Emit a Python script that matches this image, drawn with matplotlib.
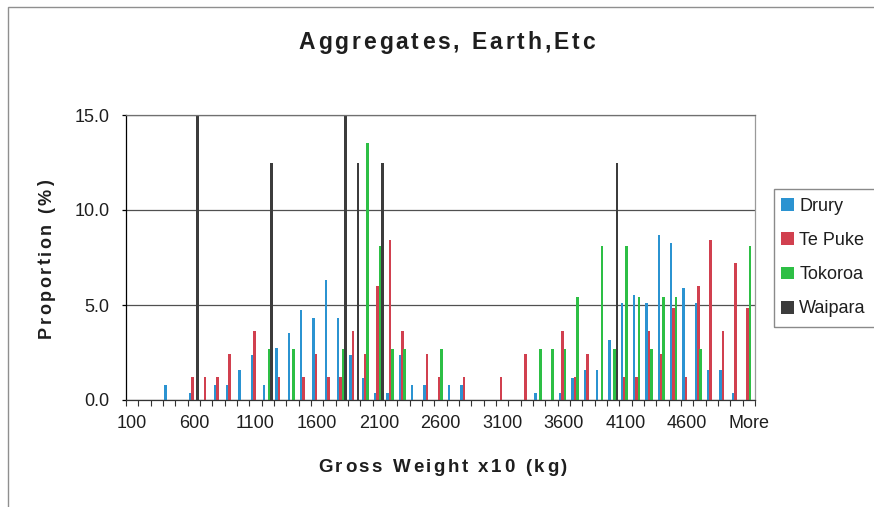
import numpy as np
import matplotlib
matplotlib.use("Agg")
import matplotlib.pyplot as plt
from matplotlib.patches import Rectangle
from matplotlib.transforms import offset_copy
from matplotlib.font_manager import FontProperties, findfont
from matplotlib.ft2font import FT2Font
from matplotlib.ticker import FixedLocator, FormatStrFormatter

# weight bins (gross weight x10 kg), last bin is the overflow
bins = ["100", "200", "300", "400", "500", "600", "700", "800", "900", "1000",
        "1100", "1200", "1300", "1400", "1500", "1600", "1700", "1800", "1900", "2000",
        "2100", "2200", "2300", "2400", "2500", "2600", "2700", "2800", "2900", "3000",
        "3100", "3200", "3300", "3400", "3500", "3600", "3700", "3800", "3900", "4000",
        "4100", "4200", "4300", "4400", "4500", "4600", "4700", "4800", "4900", "5000",
        "More"]

drury = [0, 0, 0, 0.79, 0, 0.39, 0, 0.79, 0.79, 1.57,
         2.36, 0.79, 2.76, 3.54, 4.72, 4.33, 6.30, 4.33, 2.36, 1.18,
         0.39, 0.39, 2.36, 0.79, 0.79, 0, 0.79, 0.79, 0, 0,
         0, 0, 0, 0.39, 0, 0.39, 1.18, 1.57, 1.57, 3.15,
         5.12, 5.51, 5.12, 8.66, 8.27, 5.91, 5.12, 1.57, 1.57, 0.39,
         0]

te_puke = [0, 0, 0, 0, 0, 1.20, 1.20, 1.20, 2.41, 0,
           3.61, 0, 1.20, 0, 1.20, 2.41, 1.20, 1.20, 3.61, 2.41,
           6.02, 8.43, 3.61, 0, 2.41, 1.20, 0, 1.20, 0, 0,
           1.20, 0, 2.41, 0, 0, 3.61, 1.20, 2.41, 0, 0,
           1.20, 1.20, 3.61, 2.41, 4.82, 1.20, 6.02, 8.43, 3.61, 7.23,
           4.82]

tokoroa = [0, 0, 0, 0, 0, 0, 0, 0, 0, 0,
           0, 2.70, 0, 2.70, 0, 0, 0, 2.70, 0, 13.51,
           8.11, 2.70, 2.70, 0, 0, 2.70, 0, 0, 0, 0,
           0, 0, 0, 2.70, 2.70, 2.70, 5.41, 0, 8.11, 2.70,
           8.11, 5.41, 2.70, 5.41, 5.41, 0, 2.70, 0, 0, 0,
           8.11]

waipara = [0, 0, 0, 0, 0, 25.0, 0, 0, 0, 0,
           0, 12.5, 0, 0, 0, 0, 0, 25.0, 12.5, 0,
           12.5, 0, 0, 0, 0, 0, 0, 0, 0, 0,
           0, 0, 0, 0, 0, 0, 0, 0, 0, 12.5,
           0, 0, 0, 0, 0, 0, 0, 0, 0, 0,
           0]

series = ["Drury", "Te Puke", "Tokoroa", "Waipara"]
colors = ["#2b93d1", "#d1404f", "#2dbf45", "#3c3c3c"]

W, H = 874, 507
TEXT = "#1e1e1e"


def fx(px):
    return px / W


def fy(py):
    return 1 - py / H


def spaced_text(fig, x, y, s, size, gap, rotation=0):
    # bold label with extra tracking between the letters, centred on (x, y)
    prop = FontProperties(family="Liberation Sans", weight="bold", size=size)
    font = FT2Font(findfont(prop))
    font.set_size(size, 72)
    adv = [font.load_char(ord(c)).linearHoriAdvance / 65536 for c in s]
    pos = -(sum(adv) + gap * (len(s) - 1)) / 2
    for c, a in zip(s, adv):
        if rotation:
            tr = offset_copy(fig.transFigure, fig=fig, x=0, y=pos, units="points")
        else:
            tr = offset_copy(fig.transFigure, fig=fig, x=pos, y=0, units="points")
        fig.text(fx(x), fy(y), c, transform=tr, fontproperties=prop,
                 rotation=rotation, rotation_mode="anchor",
                 ha="left", va="baseline", color=TEXT)
        pos += a + gap


plt.rcParams["font.family"] = ["Liberation Sans", "DejaVu Sans"]

fig = plt.figure(figsize=(W / 100, H / 100), dpi=100)
ax = fig.add_axes([fx(126), fy(400), fx(755) - fx(126), fy(115) - fy(400)])

x = np.arange(len(bins))
width = 0.21
step = 0.2
handles = []
for k, (vals, col) in enumerate(zip([drury, te_puke, tokoroa, waipara], colors)):
    b = ax.bar(x + (k - 1.5) * step, vals, width=width, color=col,
               linewidth=0, zorder=2)
    handles.append(b)

ax.set_xlim(-0.5, len(bins) - 0.5)
ax.set_ylim(0, 15)

# y axis
ax.set_yticks([0, 5, 10, 15])
ax.yaxis.set_major_formatter(FormatStrFormatter("%.1f"))
ax.tick_params(axis="y", direction="out", length=3, width=0.9, pad=9,
               labelsize=13, colors="black", labelcolor=TEXT)
ax.yaxis.grid(True, color="#505050", linewidth=0.9, zorder=1)
ax.set_axisbelow(True)

# x axis: labels every fifth bin, tick marks between bins
ax.xaxis.set_major_locator(FixedLocator(x[::5]))
ax.set_xticklabels(bins[::5])
ax.xaxis.set_minor_locator(FixedLocator(np.arange(-0.5, len(bins), 1)))
ax.tick_params(axis="x", which="major", length=0, pad=11,
               labelsize=13, labelcolor=TEXT)
ax.tick_params(axis="x", which="minor", direction="out", length=4, width=0.8,
               colors="#333333")

ax.spines["left"].set_color("black")
ax.spines["bottom"].set_color("#333333")
ax.spines["top"].set_color("#707070")
ax.spines["right"].set_color("#9a9a9a")
for sp in ax.spines.values():
    sp.set_linewidth(0.9)

spaced_text(fig, 446.5, 49, "Aggregates, Earth,Etc", 16.5, 2.05)
spaced_text(fig, 442.5, 472, "Gross Weight x10 (kg)", 13.5, 1.85)
spaced_text(fig, 51, 259, "Proportion (%)", 13, 1.8, rotation=90)

# legend with its frame running off the right edge
fig.legend(handles, series, loc="upper left",
           bbox_to_anchor=(fx(781), fy(198)), frameon=False,
           fontsize=13, handlelength=0.72, handleheight=0.72,
           handletextpad=0.3, labelspacing=0.95, borderpad=0,
           borderaxespad=0, labelcolor=TEXT)
fig.patches.append(Rectangle((fx(774), fy(327)), fx(120), fy(189) - fy(327),
                             transform=fig.transFigure, fill=False,
                             edgecolor="#8a8a8a", linewidth=1))

# outer chart frame
fig.patches.append(Rectangle((fx(8), fy(540)), fx(900), fy(7) - fy(540),
                             transform=fig.transFigure, fill=False,
                             edgecolor="#8f8f8f", linewidth=1))

fig.savefig("out.png", dpi=100)
